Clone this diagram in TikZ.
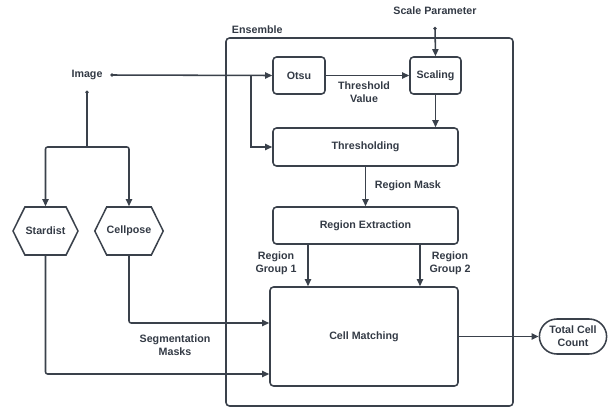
\documentclass[tikz,border=0pt]{standalone}
\usepackage{fontspec}
\setmainfont{Liberation Sans}
\usepackage{tikz}
\usetikzlibrary{shapes,shapes.symbols,shapes.misc,arrows.meta,positioning,calc}

\newlength\pxu
\setlength\pxu{0.025cm}
\definecolor{linecol}{HTML}{3A414B}
\definecolor{textcol}{HTML}{333A45}
\tikzset{
  box/.style={draw=linecol, line width=1.1pt, rounded corners=2.5pt, inner sep=0pt},
  hexbox/.style={draw=linecol, line width=1.1pt, signal, signal to=west and east, signal pointer angle=127, minimum width=65\pxu, minimum height=48\pxu, inner sep=0pt},
  lbl/.style={text=textcol, font=\fontsize{7.6}{9.4}\selectfont\bfseries, align=center},
  conn/.style={draw=linecol, line width=1.1pt, -{Triangle[length=5pt,width=4.4pt]}},
  dotconn/.style={conn, {Circle[length=2.2pt]}-{Triangle[length=5pt,width=4.4pt]}}
}

\begin{document}
\begin{tikzpicture}[x=\pxu, y=-\pxu, every node/.style={lbl}]
                    \useasboundingbox (0,0) rectangle (616,408);
                    % ensemble frame
                    \draw[linecol, line width=1.1pt, rounded corners=2.5pt] (226,38) rectangle (513,406);
                    \node[anchor=west] (ensemble) at (227,30) {Ensemble};
                    % inputs
                    \node (image) at (87,75) {Image};
                    \node (scaleparam) at (435,11) {Scale Parameter};
                    % boxes
                    \node[box, minimum width=52\pxu, minimum height=37\pxu] (otsu) at (299,75.5) {Otsu};
                    \node[box, minimum width=51\pxu, minimum height=37\pxu] (scaling) at (435.5,75.5) {Scaling};
                    \node[box, minimum width=185\pxu, minimum height=38\pxu] (thresh) at (365.5,147) {Thresholding};
                    \node[box, minimum width=185\pxu, minimum height=37\pxu] (extract) at (365.5,225.5) {Region Extraction};
                    \node[box, minimum width=188\pxu, minimum height=99\pxu] (match) at (364,336.5) {Cell Matching};
                    \node[hexbox] (stardist) at (45.5,231) {Stardist};
                    \node[hexbox] (cellpose) at (129,231) {Cellpose};
                    \node[draw=linecol, line width=1.1pt, rounded rectangle, minimum width=70\pxu, minimum height=35\pxu, inner sep=1pt] (total) at (573,336.5) {Total Cell\\Count};
                    % connectors
                    \draw[dotconn] ($(image.east)+(3,0)$) -- (otsu.west);
                    \draw[conn] (251,75) |- (thresh.west);
                    \draw[conn] (otsu.east) -- (scaling.west);
                    \draw[dotconn] ($(scaleparam.south)+(0,7)$) -- (scaling.north);
                    \draw[conn] (scaling.south) -- (scaling.south |- thresh.north);
                    \draw[conn] (thresh.south) -- (extract.north);
                    \draw[conn] ($(extract.south)+(-57.5,0)$) -- ($(match.north)+(-56,0)$);
                    \draw[conn] ($(extract.south)+(54.5,0)$) -- ($(match.north)+(56,0)$);
                    \draw[linecol, line width=1.1pt, {Circle[length=2.2pt]}-] ($(image.south)+(0,6)$) -- (87,147);
                    \draw[conn, rounded corners=1.5pt] (87,147) -| (stardist.north);
                    \draw[conn, rounded corners=1.5pt] (87,147) -| (cellpose.north);
                    \draw[conn, rounded corners=1.5pt] (cellpose.south) |- ($(match.west)+(0,-13.5)$);
                    \draw[conn, rounded corners=1.5pt] (stardist.south) |- ($(match.west)+(0,37.5)$);
                    \draw[conn] (match.east) -- (total.west);
                    % labels
                    \node (threshval) at (364,92.5) {Threshold\\Value};
                    \node[anchor=west] (regmask) at (370,186) {Region Mask};
                    \node (group1) at (276,263.5) {Region\\Group 1};
                    \node (group2) at (450,263.5) {Region\\Group 2};
                    \node (segmasks) at (175,345.5) {Segmentation\\Masks};
                \end{tikzpicture}
\end{document}
